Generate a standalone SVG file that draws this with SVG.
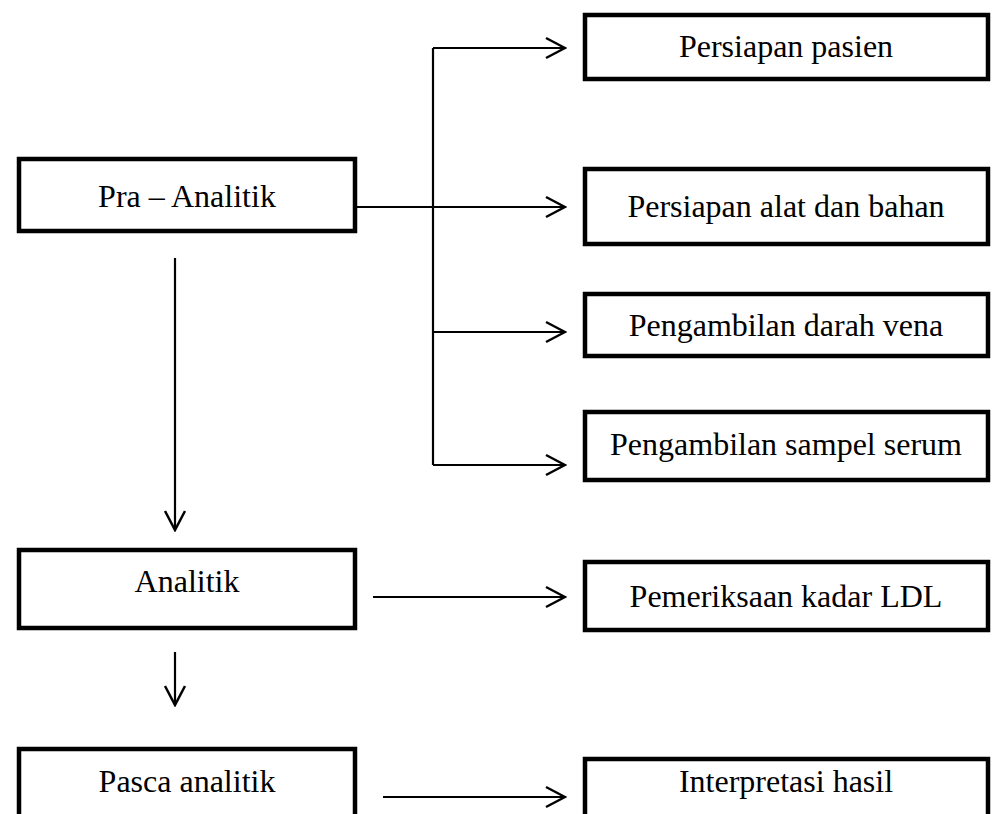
<svg xmlns="http://www.w3.org/2000/svg" width="1000" height="814" viewBox="0 0 1000 814">
<style>
.box{fill:#fff;stroke:#000;stroke-width:4.5}
.t{font-family:"Liberation Serif","Times New Roman",serif;font-size:32px;fill:#000;text-anchor:middle}
.c{fill:none;stroke:#000;stroke-width:2.2}
</style>
<defs>
<marker id="ah" viewBox="0 0 24 24" refX="22" refY="12" markerWidth="24" markerHeight="24" markerUnits="userSpaceOnUse" orient="auto">
<path d="M3 2 L22 12 L3 22" fill="none" stroke="#000" stroke-width="2.5"/>
</marker>
</defs>
<rect width="1000" height="814" fill="#fff"/>
<g id="connectors">
<path class="c" d="M433 48 V465"/>
<path class="c" d="M433 48 H565" marker-end="url(#ah)"/>
<path class="c" d="M357 207 H565" marker-end="url(#ah)"/>
<path class="c" d="M433 332 H565" marker-end="url(#ah)"/>
<path class="c" d="M433 465 H565" marker-end="url(#ah)"/>
<path class="c" d="M175 258 V530" marker-end="url(#ah)"/>
<path class="c" d="M373 597 H565" marker-end="url(#ah)"/>
<path class="c" d="M175 652 V705" marker-end="url(#ah)"/>
<path class="c" d="M383 797 H565" marker-end="url(#ah)"/>
</g>
<g id="pra"><rect class="box" x="19" y="159" width="336" height="72"/><text class="t" x="187" y="207">Pra – Analitik</text></g>
<g id="analitik"><rect class="box" x="19" y="550" width="336" height="78"/><text class="t" x="187" y="592">Analitik</text></g>
<g id="pasca"><rect class="box" x="19" y="749" width="336" height="80"/><text class="t" x="187" y="792">Pasca analitik</text></g>
<g id="n1"><rect class="box" x="585" y="15" width="403" height="64"/><text class="t" x="786" y="57">Persiapan pasien</text></g>
<g id="n2"><rect class="box" x="585" y="169" width="403" height="75"/><text class="t" x="786" y="217">Persiapan alat dan bahan</text></g>
<g id="n3"><rect class="box" x="585" y="294" width="403" height="62"/><text class="t" x="786" y="336">Pengambilan darah vena</text></g>
<g id="n4"><rect class="box" x="585" y="412" width="403" height="68"/><text class="t" x="786" y="455">Pengambilan sampel serum</text></g>
<g id="n5"><rect class="box" x="585" y="562" width="403" height="68"/><text class="t" x="786" y="607">Pemeriksaan kadar LDL</text></g>
<g id="n6"><rect class="box" x="585" y="759" width="403" height="70"/><text class="t" x="786" y="792">Interpretasi hasil</text></g>
</svg>
